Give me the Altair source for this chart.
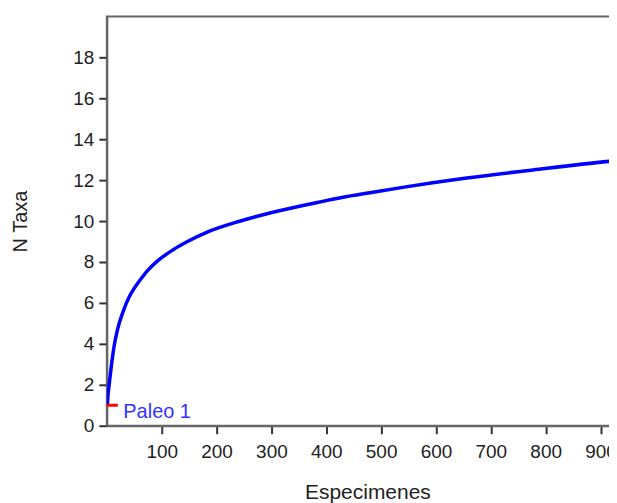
import altair as alt
import pandas as pd

# Rarefaction curve
specimens = [1, 2, 4, 7, 13, 19, 30, 40, 50, 61, 75, 91, 121, 147, 182, 242, 303, 364, 424, 485, 545, 656, 777, 929, 960]
taxa = [1.0, 1.45, 1.95, 2.65, 3.85, 4.65, 5.6, 6.25, 6.72, 7.13, 7.6, 8.02, 8.6, 9.0, 9.45, 9.99, 10.43, 10.8, 11.13, 11.41, 11.67, 12.1, 12.5, 12.95, 13.02]

marker_x = [0, 20]
marker_y = [1, 1]

label_text = ["Paleo 1"]
label_x = [30]
label_y = [0.65]

x_ticks = [100, 200, 300, 400, 500, 600, 700, 800, 900]
y_ticks = [0, 2, 4, 6, 8, 10, 12, 14, 16, 18]

FONT = "Liberation Sans"

curve_df = pd.DataFrame({"x": specimens, "y": taxa})
marker_df = pd.DataFrame({"x": marker_x, "y": marker_y})
label_df = pd.DataFrame({"x": label_x, "y": label_y, "t": label_text})

xscale = alt.Scale(domain=[0, 950], nice=False, zero=False)
yscale = alt.Scale(domain=[0, 20], nice=False)

xaxis = alt.Axis(
    title="Especimenes", values=x_ticks, grid=False, format="d",
    labelFont=FONT, labelFontSize=19, labelColor="#222",
    titleFont=FONT, titleFontSize=21, titleFontWeight="normal", titleColor="#222",
    domainColor="#666", domainWidth=2, tickColor="#333", tickWidth=2, tickSize=8,
    labelPadding=9, titlePadding=20,
)
yaxis = alt.Axis(
    title="N Taxa", values=y_ticks, grid=False, format="d",
    labelFont=FONT, labelFontSize=19, labelColor="#222",
    titleFont=FONT, titleFontSize=20, titleFontWeight="normal", titleColor="#222",
    domainColor="#666", domainWidth=2, tickColor="#333", tickWidth=2, tickSize=8,
    labelPadding=5, titlePadding=42,
)

curve = alt.Chart(curve_df).mark_line(color="#0000ff", strokeWidth=3.5, interpolate="monotone", clip=True).encode(
    x=alt.X("x:Q", scale=xscale, axis=xaxis),
    y=alt.Y("y:Q", scale=yscale, axis=yaxis),
)

marker = alt.Chart(marker_df).mark_line(color="#ff0000", strokeWidth=3).encode(
    x=alt.X("x:Q", scale=xscale),
    y=alt.Y("y:Q", scale=yscale),
)

label = alt.Chart(label_df).mark_text(
    color="#3333ff", font=FONT, fontSize=20, align="left", baseline="middle"
).encode(
    x=alt.X("x:Q", scale=xscale),
    y=alt.Y("y:Q", scale=yscale),
    text="t:N",
)

chart = alt.layer(curve, marker, label).properties(
    width=522, height=410,
    padding={"left": 2, "top": 8, "right": -19, "bottom": 0},
).configure_view(stroke="#666", strokeWidth=2)

chart.save("out.html", embed_options={"renderer": "svg", "actions": False})
